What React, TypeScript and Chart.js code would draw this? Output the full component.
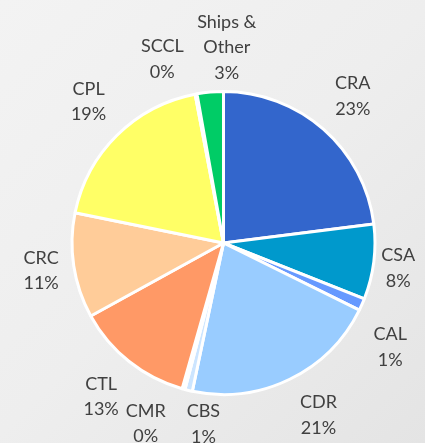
import React, { useEffect, useRef } from "react";
import { Chart, registerables } from "chart.js";

Chart.register(...registerables);

const categories = ["CRA", "CSA", "CAL", "CDR", "CBS", "CMR", "CTL", "CRC", "CPL", "SCCL", "Ships &\nOther"];
const shares = [23.0, 8.0, 1.3, 21.0, 0.8, 0.3, 12.6, 11.2, 18.8, 0.2, 2.8];
const sliceColors = ["#3366CC", "#0099CC", "#6699FF", "#99CCFF", "#CCE5FF", "#E0F0FF", "#FF9966", "#FFCC99", "#FFFF66", "#66CC99", "#00CC66"];
// label layout tweaks (angle offset in degrees, radial offset in px) per slice
const labelNudges = [
  { da: 0, dr: 0 },
  { da: 1, dr: -19 },
  { da: 8, dr: 1 },
  { da: -3, dr: 1 },
  { da: -7, dr: -13 },
  { da: 8, dr: 1 },
  { da: 0, dr: 1 },
  { da: 0, dr: -11 },
  { da: 1, dr: 0 },
  { da: -8, dr: -2 },
  { da: 6, dr: 0 },
];

const outsideLabels = {
  id: "outsideLabels",
  afterDatasetsDraw(chart: any) {
    const ctx = chart.ctx;
    const meta = chart.getDatasetMeta(0);
    const data = chart.data.datasets[0].data as number[];
    const total = data.reduce((a: number, b: number) => a + b, 0);
    ctx.save();
    ctx.font = "18px Lato";
    ctx.fillStyle = "#404040";
    ctx.textAlign = "center";
    ctx.textBaseline = "middle";
    const lineH = 25.5;
    meta.data.forEach((arc: any, i: number) => {
      const { x, y, startAngle, endAngle, outerRadius } = arc.getProps(["x", "y", "startAngle", "endAngle", "outerRadius"], true);
      const nudge = labelNudges[i] || { da: 0, dr: 0 };
      const mid = (startAngle + endAngle) / 2 + (nudge.da * Math.PI) / 180;
      const r = outerRadius + 44 + nudge.dr;
      const cx = x + Math.cos(mid) * r;
      const cy = y + Math.sin(mid) * r;
      const lines = String(chart.data.labels[i]).split("\n");
      lines.push(Math.round((data[i] / total) * 100) + "%");
      const top = cy - ((lines.length - 1) * lineH) / 2;
      lines.forEach((t: string, k: number) => ctx.fillText(t, cx, top + k * lineH));
    });
    ctx.restore();
  },
};

export default function App() {
  const ref = useRef<HTMLCanvasElement>(null);
  useEffect(() => {
    if (!ref.current) return;
    const chart = new Chart(ref.current, {
      type: "pie",
      data: {
        labels: categories,
        datasets: [
          {
            data: shares,
            backgroundColor: sliceColors,
            borderColor: "#FFFFFF",
            borderWidth: 3,
          },
        ],
      },
      options: {
        responsive: false,
        animation: false,
        layout: { padding: { left: 70, right: 48, top: 90, bottom: 47 } },
        plugins: { legend: { display: false }, tooltip: { enabled: false } },
      },
      plugins: [outsideLabels],
    });
    return () => chart.destroy();
  }, []);
  return (
    <div
      style={{
        position: "fixed",
        left: 0,
        top: 0,
        width: 425,
        height: 443,
        background: "linear-gradient(135deg, #f3f3f3 0%, #eeeeee 50%, #e4e4e4 100%)",
      }}
    >
      <canvas ref={ref} width={425} height={443} style={{ display: "block" }} />
    </div>
  );
}
